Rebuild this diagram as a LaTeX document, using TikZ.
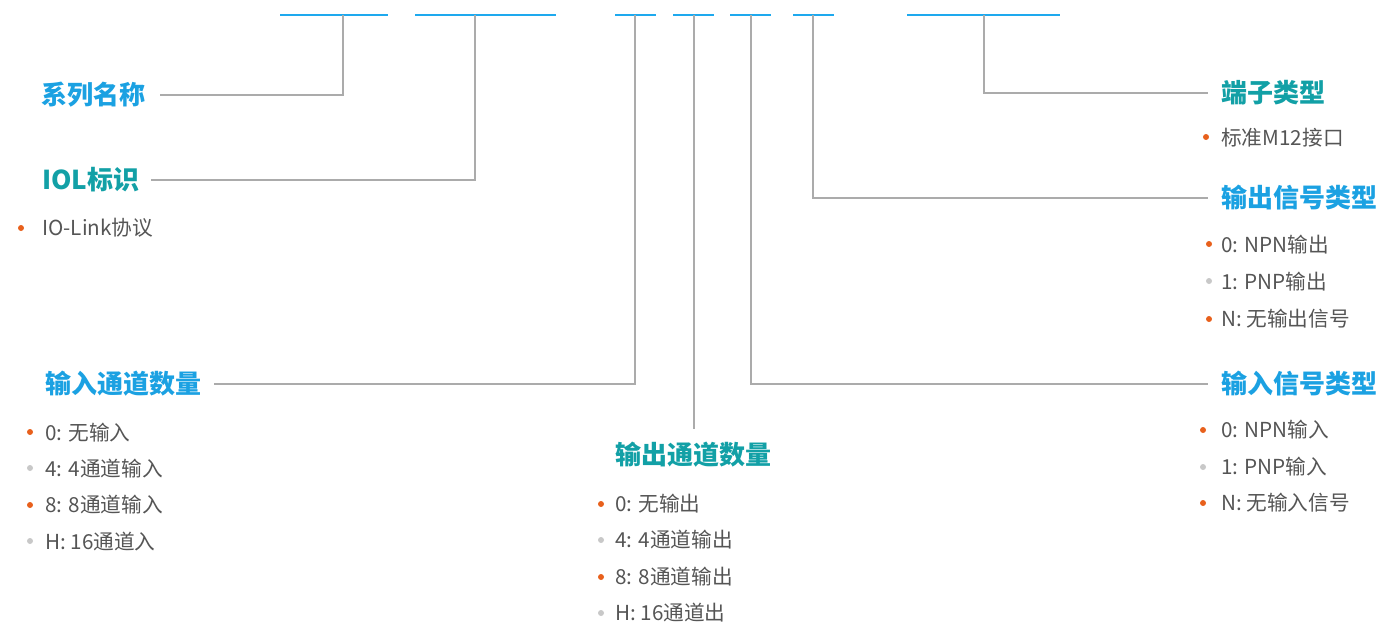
\documentclass[tikz,border=0pt]{standalone}
\usepackage{fontspec}
\setmainfont{Noto Sans CJK SC}
\definecolor{tblue}{HTML}{1BA1E2}
\definecolor{tteal}{HTML}{12A0A6}
\definecolor{segblue}{HTML}{1EA9EE}
\definecolor{conngray}{HTML}{ABABAB}
\definecolor{txtgray}{HTML}{555555}
\definecolor{bor}{HTML}{E8601C}
\definecolor{bgr}{HTML}{C8C8C8}
\tikzset{
  title/.style={anchor=west,inner sep=0pt,outer sep=0pt,font=\fontsize{19.5pt}{24pt}\selectfont\bfseries},
  tb/.style={title,text=tblue},
  tt/.style={title,text=tteal},
  itemtxt/.style={anchor=west,inner sep=0pt,text=txtgray,font=\fontsize{15.5pt}{18pt}\selectfont},
  seg/.style={draw=segblue,line width=1.2pt},
  conn/.style={draw=conngray,line width=1.1pt},
  bo/.style={fill=bor},
  bg/.style={fill=bgr}
}
\begin{document}
\begin{tikzpicture}[x=0.75pt,y=-0.75pt]
\useasboundingbox (0,0) rectangle (1383,622);
% top segments
\coordinate (s1a) at (280,15); \coordinate (s1b) at (388,15); \coordinate (s1m) at (343,15);
\coordinate (s2a) at (415,15); \coordinate (s2b) at (556,15); \coordinate (s2m) at (475,15);
\coordinate (s3a) at (615,15); \coordinate (s3b) at (656,15); \coordinate (s3m) at (635,15);
\coordinate (s4a) at (673,15); \coordinate (s4b) at (714,15); \coordinate (s4m) at (694,15);
\coordinate (s5a) at (730,15); \coordinate (s5b) at (771,15); \coordinate (s5m) at (751,15);
\coordinate (s6a) at (793,15); \coordinate (s6b) at (834,15); \coordinate (s6m) at (813,15);
\coordinate (s7a) at (907,15); \coordinate (s7b) at (1060,15); \coordinate (s7m) at (984,15);
\foreach \s in {1,...,7} {\draw[seg] (s\s a) -- (s\s b);}
% titles
\node[tb] (t1) at (41,95) {系列名称};
\node[tt] (t2) at (42,180) {IOL标识};
\node[tb] (t3) at (45,384) {输入通道数量};
\node[tt] (t4) at (615,455) {输出通道数量};
\node[tb] (t5) at (1221,384) {输入信号类型};
\node[tb] (t6) at (1221,198) {输出信号类型};
\node[tt] (t7) at (1221,93) {端子类型};
% connectors
\draw[conn] (s1m) |- ([xshift=11pt]t1.east);
\draw[conn] (s2m) |- ([xshift=9pt]t2.east);
\draw[conn] (s3m) |- ([xshift=10pt]t3.east);
\draw[conn] (s4m) -- ([yshift=10pt]s4m |- t4.north);
\draw[conn] (s5m) |- ([xshift=-10pt]t5.west);
\draw[conn] (s6m) |- ([xshift=-10pt]t6.west);
\draw[conn] (s7m) |- ([xshift=-10pt]t7.west);
% items: IOL
\fill[bo] (21,228) circle (3);
\node[itemtxt] (i21) at (42,228) {IO-Link协议};
% input channels
\fill[bo] (30,432) circle (3);
\fill[bg] (30,468) circle (3);
\fill[bo] (30,505) circle (3);
\fill[bg] (30,541) circle (3);
\node[itemtxt] (i31) at (45,433) {0: 无输入};
\node[itemtxt] (i32) at (45,469) {4: 4通道输入};
\node[itemtxt] (i33) at (45,505) {8: 8通道输入};
\node[itemtxt] (i34) at (45,542) {H: 16通道入};
% output channels
\fill[bo] (601,504) circle (3);
\fill[bg] (601,540) circle (3);
\fill[bo] (601,577) circle (3);
\fill[bg] (601,613) circle (3);
\node[itemtxt] (i41) at (615,504) {0: 无输出};
\node[itemtxt] (i42) at (615,540) {4: 4通道输出};
\node[itemtxt] (i43) at (615,577) {8: 8通道输出};
\node[itemtxt] (i44) at (615,613) {H: 16通道出};
% terminal
\fill[bo] (1206,137) circle (3);
\node[itemtxt] (i71) at (1221,138) {标准M12接口};
% output signal
\fill[bo] (1209,244) circle (3);
\fill[bg] (1209,281) circle (3);
\fill[bo] (1209,319) circle (3);
\node[itemtxt] (i61) at (1221,245) {0: NPN输出};
\node[itemtxt] (i62) at (1221,282) {1: PNP输出};
\node[itemtxt] (i63) at (1221,319) {N: 无输出信号};
% input signal
\fill[bo] (1203,430) circle (3);
\fill[bg] (1203,467) circle (3);
\fill[bo] (1203,503) circle (3);
\node[itemtxt] (i51) at (1221,430) {0: NPN输入};
\node[itemtxt] (i52) at (1221,467) {1: PNP输入};
\node[itemtxt] (i53) at (1221,503) {N: 无输入信号};
\end{tikzpicture}
\end{document}
